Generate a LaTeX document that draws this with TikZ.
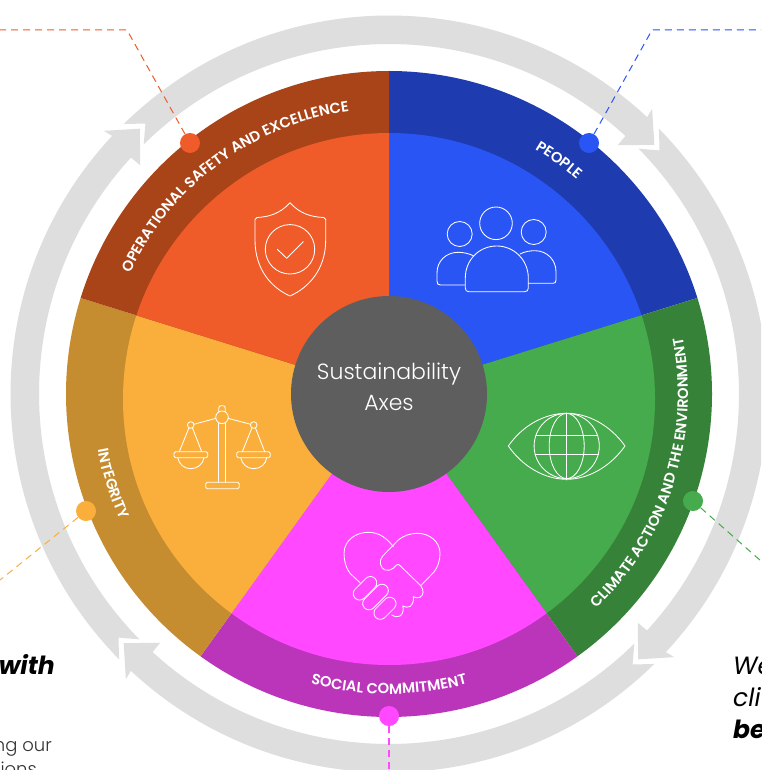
\documentclass[tikz,border=0pt]{standalone}
\usepackage{fontspec}
\usetikzlibrary{decorations.text}
\setmainfont{Poppins}
\newfontfamily\lightf{Poppins Light}
\newfontfamily\labelf{Poppins SemiBold}
\definecolor{ringg}{HTML}{DEDEDE}
\definecolor{odark}{HTML}{A94418}\definecolor{olight}{HTML}{EF5B29}
\definecolor{bdark}{HTML}{1E3CB0}\definecolor{blight}{HTML}{2A55F5}
\definecolor{gdark}{HTML}{378239}\definecolor{glight}{HTML}{46AB4C}
\definecolor{mdark}{HTML}{BB35BB}\definecolor{mlight}{HTML}{FF48FF}
\definecolor{ydark}{HTML}{C68D30}\definecolor{ylight}{HTML}{FAAF3C}
\definecolor{hubc}{HTML}{5E5E5E}
\tikzset{
  iconw/.style={draw=white,line width=0.85pt,line join=round,line cap=round},
  dotn/.style={circle,minimum size=20pt,inner sep=0pt},
  leader/.style={line width=1pt,dash pattern=on 7pt off 5pt},
  curvelab/.style={decorate,decoration={text along path,text align={center},text color=white,
     text={|\labelf\fontsize{14.7}{14.7}\selectfont|#1}}},
  bigit/.style={font=\fontsize{25}{25}\selectfont\itshape,text=black,inner sep=0pt},
  bigbf/.style={font=\fontsize{25}{25}\selectfont\bfseries\itshape,text=black,inner sep=0pt},
  small/.style={font=\lightf\fontsize{18}{18}\selectfont,text=black!80,inner sep=0pt}
}
\begin{document}
\begin{tikzpicture}[x=1pt,y=-1pt]
\useasboundingbox (0,0) rectangle (761,770);
\clip (0,0) rectangle (761,770);
\fill[white] (0,0) rectangle (761,770);

\begin{scope}[shift={(389,394)},y=1pt]
  % circular arrows
  \foreach \r in {0,-90,-180,90}{
    \fill[ringg,rotate=\r] (134.5:378.5) arc[start angle=134.5,end angle=47,radius=378.5]
      -- (47.3:388) -- (43.2:364) -- (47.4:338) -- (47.5:350)
      arc[start angle=47.5,end angle=134.5,radius=350] -- (132:364) -- cycle;
  }
  % sectors
  \foreach \a/\b/\m/\d/\l in {90/17.3/54/bdark/blight,17.3/-54.3/-18/gdark/glight,-54.3/-125.7/-90/mdark/mlight,234.3/162.7/198/ydark/ylight,162.7/90/126/odark/olight}{
    \fill[\d] (0,0) -- (\a:323) arc[start angle=\a,end angle=\b,radius=323] -- cycle;
    \begin{scope}
      \clip (0,0) -- (\a:500) -- (\m:500) -- (\b:500) -- cycle;
      \fill[\l] (0,-5) circle[radius=266];
    \end{scope}
  }
  % curved labels
  \path[curvelab={OPERATIONAL SAFETY AND EXCELLENCE}] (158:285.5) arc[start angle=158,end angle=95,radius=285.5];
  \path[curvelab={PEOPLE}] (62:285) arc[start angle=62,end angle=46,radius=285];
  \path[curvelab={CLIMATE ACTION AND THE ENVIRONMENT}] (-48.5:299) arc[start angle=-48.5,end angle=13.5,radius=299];
  \path[curvelab={SOCIAL COMMITMENT}] (-108:300) arc[start angle=-108,end angle=-72,radius=300];
  \path[curvelab={INTEGRITY}] (189:296.5) arc[start angle=189,end angle=207,radius=296.5];
\end{scope}

% hub
\node[circle,fill=hubc,minimum size=196pt,inner sep=0pt] (hub) at (389,394) {};
\node[font=\lightf\fontsize{22}{22}\selectfont,text=white,inner sep=0pt] (hubA) at (389,374) {Sustainability};
\node[font=\lightf\fontsize{22}{22}\selectfont,text=white,inner sep=0pt] (hubB) at (389,403) {Axes};

% shield
\draw[iconw] (290,202.7) .. controls (280,214) and (268,217) .. (257,217.5) -- (255,219.5) -- (255,240)
  .. controls (255,270) and (272,288) .. (290,296) .. controls (308,288) and (325.7,270) .. (325.7,240)
  -- (325.7,219.5) -- (323.7,217.5) .. controls (312,217) and (300,214) .. (290,202.7) -- cycle;
\draw[iconw] (290,249.3) circle[radius=24.7];
\draw[iconw] (277.3,249.3) -- (286.7,258.3) -- (303.3,241.7);

% people
\draw[iconw] (496,223.3) circle[radius=16.3];
\draw[iconw] (459.7,234) circle[radius=12.5];
\draw[iconw] (533.7,232) circle[radius=12.5];
\draw[iconw] (465.3,278) .. controls (465.3,260) and (479,246) .. (496.8,246)
  .. controls (514,246) and (528.3,260) .. (528.3,278) -- (528.3,288) .. controls (528.3,290.5) and (527,291.7) .. (524.5,291.7)
  -- (469,291.7) .. controls (466.5,291.7) and (465.3,290.5) .. (465.3,288) -- cycle;
\draw[iconw] (465,285) -- (440.5,285) .. controls (438,285) and (437,284) .. (437,281) -- (437,273)
  .. controls (437,261) and (446,252.3) .. (458.3,252.3) .. controls (463,252.3) and (469,253.5) .. (473.3,255.7);
\draw[iconw] (520,254) .. controls (525,251.5) and (530,250.7) .. (535,250.7)
  .. controls (547,250.7) and (556,260) .. (556,271.7) -- (556,280) .. controls (556,282.5) and (555,283.3) .. (553,283.3) -- (528.3,283.3);

% scales
\draw[iconw] (222,417.3) circle[radius=6.3];
\draw[iconw] (218.7,412) -- (218.7,408.5) .. controls (218.7,406.5) and (219.7,405.7) .. (221,405.7) -- (223,405.7) .. controls (224.3,405.7) and (225.3,406.5) .. (225.3,408.5) -- (225.3,412);
\draw[iconw] (218.7,423.3) -- (218.7,482.3) (225.7,423.3) -- (225.7,482.3);
\draw[iconw,rounded corners=1.5pt] (205.7,482.3) rectangle (239.3,488.7);
\draw[iconw] (216,418.3) -- (193.8,424.3) (228,418.3) -- (250.7,424.3);
\draw[iconw] (190.7,425) circle[radius=3.3] (253.7,425) circle[radius=3.3];
\draw[iconw] (188.9,428) -- (179.3,451.7) (192.5,428) -- (201.7,451.7);
\draw[iconw] (251.9,428) -- (242.3,451.7) (255.5,428) -- (264.7,451.7);
\draw[iconw,rounded corners=1.5pt] (174,451.7) rectangle (207.7,457.7);
\draw[iconw,rounded corners=1.5pt] (236.7,451.7) rectangle (270.3,457.7);
\draw[iconw] (177.7,457.7) .. controls (179,464) and (184,468.7) .. (190.7,468.7) .. controls (197.5,468.7) and (203,464) .. (204,457.7);
\draw[iconw] (240.7,457.7) .. controls (242,464) and (247,468.7) .. (253.7,468.7) .. controls (260.5,468.7) and (266,464) .. (266.7,457.7);

% handshake
\draw[iconw] (393.3,546.7) .. controls (386,537) and (378,532.3) .. (368.3,532.3)
  .. controls (355,532.3) and (344,541) .. (344,553.3) .. controls (344,561) and (346,568) .. (350,573.3) -- (360,582.7);
\draw[iconw] (420.7,585.7) -- (434,572) .. controls (438,567) and (440,560) .. (440,553.3)
  .. controls (440,542) and (430,533.3) .. (417.3,533.3) .. controls (410,533.3) and (403,536) .. (398.3,540)
  -- (382.7,556) .. controls (378.5,560.5) and (380,568) .. (385,570) .. controls (388,571) and (391,570) .. (393.3,568.3)
  -- (396,565.5) .. controls (397,564) and (399,564) .. (400,565.5) -- (420.7,585.7)
  .. controls (424,590) and (424,595) .. (420,597.3) .. controls (418,598) and (415,598) .. (413.3,596.7)
  .. controls (414,600) and (413,604) .. (410,606.5) .. controls (408,607.5) and (405,607.5) .. (402.7,606)
  .. controls (404,609) and (403,614) .. (400,616) .. controls (397,617.5) and (394,617) .. (391.7,615);
\draw[iconw,rounded corners=6.4pt,rotate around={45:(365,588.3)}] (351,581.9) rectangle (379,594.7);
\draw[iconw,rounded corners=6.4pt,rotate around={45:(375.5,597)}] (360,590.6) rectangle (391,603.4);
\draw[iconw,rounded corners=6.4pt,rotate around={45:(385,608.3)}] (372,601.9) rectangle (398,614.7);

% eye and globe
\draw[iconw] (508.3,446) .. controls (523,425) and (545,413.3) .. (566.7,413.3) .. controls (588,413.3) and (610,425) .. (625,446)
  .. controls (610,467) and (588,479.3) .. (566.7,479.3) .. controls (545,479.3) and (523,467) .. (508.3,446) -- cycle;
\draw[iconw] (566.7,446) circle[radius=32.6];
\draw[iconw] (566.7,446) ellipse[x radius=17.5,y radius=32.6];
\draw[iconw] (566.7,413) -- (566.7,480);
\draw[iconw] (536,435) -- (597.7,435) (535,454) -- (598.5,454);

% dots and leader lines
\node[dotn,fill=olight] (dotO) at (190,143) {};
\node[dotn,fill=blight] (dotB) at (589,143) {};
\node[dotn,fill=glight] (dotG) at (693,501) {};
\node[dotn,fill=mlight] (dotM) at (389,716) {};
\node[dotn,fill=ylight] (dotY) at (86,511) {};
\coordinate (o1) at (127,30); \coordinate (o2) at (0,30);
\coordinate (b1) at (652,30); \coordinate (b2) at (761,30);
\coordinate (g1) at (761,561);
\coordinate (m1) at (389,770);
\coordinate (y1) at (0,580);
\draw[leader,draw=olight] (dotO) -- (o1) -- (o2);
\draw[leader,draw=blight] (dotB) -- (b1) -- (b2);
\draw[leader,draw=glight] (dotG) -- (g1);
\draw[leader,draw=mlight,line width=1.5pt] (dotM) -- (m1);
\draw[leader,draw=ylight] (dotY) -- (y1);

% side text
\node[bigbf,anchor=base east] (t1) at (55,674) {with};
\node[small,anchor=base east] (t2) at (52,751) {ng our};
\node[small,anchor=base east] (t3) at (37,775) {ions};
\node[bigit,anchor=base west] (t4) at (733,674) {We};
\node[bigit,anchor=base west] (t5) at (733,706) {cli};
\node[bigbf,anchor=base west] (t6) at (733,738) {be};
\end{tikzpicture}
\end{document}
